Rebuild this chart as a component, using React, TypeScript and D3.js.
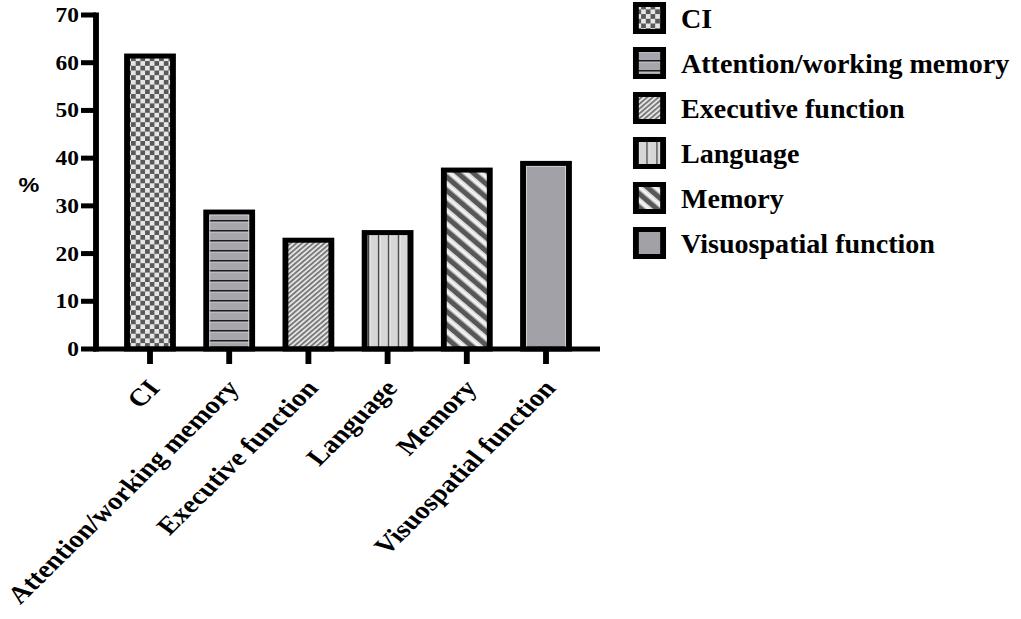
import * as d3 from 'd3'
import React from 'react'

// horizontal stretch of the original figure
const S = 1.17
const X = (px: number) => px / S

const categories = [
  'CI',
  'Attention/working memory',
  'Executive function',
  'Language',
  'Memory',
  'Visuospatial function',
]
const values = [61.4, 28.7, 22.8, 24.4, 37.5, 38.9]
const patternIds = ['checker', 'hstripe', 'fineDiag', 'vstripe', 'wideDiag', 'solid']
const yTicks = [0, 10, 20, 30, 40, 50, 60, 70]

const serif = '"Liberation Serif", "Times New Roman", serif'
const sans = '"Liberation Sans", Arial, sans-serif'

const Patterns: React.FC = () => (
  <defs>
    <pattern id="checker" patternUnits="userSpaceOnUse" width={8} height={9.4}>
      <rect width={8} height={9.4} fill="#e6e6e6" />
      <rect width={4} height={4.7} fill="#595959" />
      <rect x={4} y={4.7} width={4} height={4.7} fill="#595959" />
    </pattern>
    <pattern id="hstripe" patternUnits="userSpaceOnUse" width={10} height={10}>
      <rect width={10} height={10} fill="#a6a6ac" />
      <rect width={10} height={1.7} fill="#1c1c1c" />
      <rect y={1.7} width={10} height={1} fill="#c4c4c8" />
    </pattern>
    <pattern
      id="fineDiag"
      patternUnits="userSpaceOnUse"
      width={3.4}
      height={3.4}
      patternTransform="rotate(45)"
    >
      <rect width={3.4} height={3.4} fill="#f2f2f2" />
      <rect width={1.9} height={3.4} fill="#7a7a7a" />
    </pattern>
    <pattern id="vstripe" patternUnits="userSpaceOnUse" width={8.5} height={10}>
      <rect width={8.5} height={10} fill="#d6d6d6" />
      <rect width={1.3} height={10} fill="#3a3a3a" />
      <rect x={1.3} width={1} height={10} fill="#f0f0f0" />
    </pattern>
    <pattern
      id="wideDiag"
      patternUnits="userSpaceOnUse"
      width={9.5}
      height={9.5}
      patternTransform="rotate(-45)"
    >
      <rect width={9.5} height={9.5} fill="#dcdcdc" />
      <rect x={6.2} width={1.6} height={9.5} fill="#f7f7f7" />
      <rect width={4.7} height={9.5} fill="#575757" />
    </pattern>
    <pattern id="solid" patternUnits="userSpaceOnUse" width={10} height={10}>
      <rect width={10} height={10} fill="#a3a1a8" />
    </pattern>
  </defs>
)

export default function App() {
  const width = 1021
  const height = 619

  const yScale = d3.scaleLinear().domain([0, 70]).range([349, 15])
  const xScale = d3
    .scaleBand<string>()
    .domain(categories)
    .range([X(110.4), X(585.6)])
    .paddingInner(0.42)
    .paddingOuter(0.21)

  const axisX = X(96)
  const y0 = yScale(0)
  const bw = xScale.bandwidth()

  return (
    <svg
      width={width}
      height={height}
      style={{ position: 'absolute', left: 0, top: 0, background: '#fff' }}
    >
      <Patterns />
      <g transform={`scale(${S},1)`}>
        {/* bars */}
        {categories.map((c, i) => {
          const x = xScale(c) ?? 0
          const y = yScale(values[i])
          return (
            <g key={c}>
              <rect
                x={x}
                y={y}
                width={bw}
                height={y0 - y}
                fill={`url(#${patternIds[i]})`}
                stroke="#000"
                strokeWidth={5}
              />
              {patternIds[i] === 'solid' || patternIds[i] === 'hstripe' ? (
                <rect
                  x={x + 3}
                  y={y + 3}
                  width={bw - 6}
                  height={y0 - y - 3}
                  fill="none"
                  stroke="#d2d2d6"
                  strokeWidth={0.8}
                />
              ) : null}
            </g>
          )
        })}

        {/* y axis */}
        <line x1={axisX} x2={axisX} y1={yScale(70) - 2.5} y2={y0 + 2.5} stroke="#000" strokeWidth={5} />
        {yTicks.map(t => (
          <g key={t}>
            <line x1={X(81)} x2={axisX} y1={yScale(t)} y2={yScale(t)} stroke="#000" strokeWidth={5} />
            <text
              x={X(79)}
              y={yScale(t)}
              dy="0.35em"
              textAnchor="end"
              fontFamily={serif}
              fontWeight="bold"
              fontSize={20}
              fill="#000"
            >
              {t}
            </text>
          </g>
        ))}
        <text
          x={X(29)}
          y={192}
          textAnchor="middle"
          fontFamily={sans}
          fontWeight="bold"
          fontSize={20}
          fill="#000"
        >
          %
        </text>

        {/* x axis */}
        <line x1={X(93.5)} x2={X(600)} y1={y0} y2={y0} stroke="#000" strokeWidth={5} />
        {categories.map(c => {
          const cx = (xScale(c) ?? 0) + bw / 2
          return (
            <g key={c}>
              <line x1={cx} x2={cx} y1={y0} y2={y0 + 15} stroke="#000" strokeWidth={5} />
              <text
                transform={`translate(${cx + X(11)}, ${389}) rotate(-49)`}
                textAnchor="end"
                fontFamily={serif}
                fontWeight="bold"
                fontSize={24.5}
                fill="#000"
              >
                {c}
              </text>
            </g>
          )
        })}

        {/* legend */}
        {categories.map((c, i) => {
          const cy = 18 + i * 45
          return (
            <g key={c}>
              <rect
                x={X(635.9)}
                y={cy - 13.5}
                width={X(27.2)}
                height={27}
                fill={`url(#${patternIds[i]})`}
                stroke="#000"
                strokeWidth={5}
              />
              <text
                transform={`translate(${X(681)}, ${cy + 9.5}) scale(${24 / 27}, 1)`}
                fontFamily={serif}
                fontWeight="bold"
                fontSize={27}
                fill="#000"
              >
                {c}
              </text>
            </g>
          )
        })}
      </g>
    </svg>
  )
}
